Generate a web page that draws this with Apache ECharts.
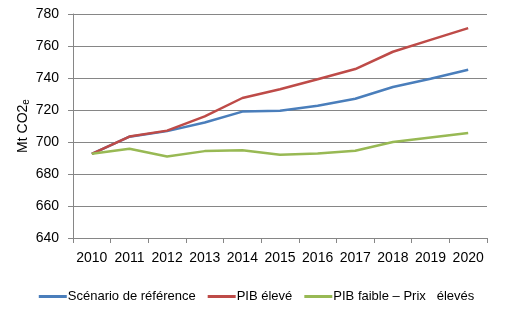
<!DOCTYPE html>
<html><head><meta charset="utf-8">
<script src="https://cdn.jsdelivr.net/npm/echarts@6/dist/echarts.min.js"></script>
<style>html,body{margin:0;padding:0;background:#fff}#c{width:513px;height:322px}</style>
</head><body><div id="c"></div>
<script>
var years = ['2010','2011','2012','2013','2014','2015','2016','2017','2018','2019','2020'];
var reference = [692.6, 703.3, 706.8, 712.2, 719.0, 719.6, 722.7, 727.0, 734.4, 739.5, 745.2];
var pibEleve = [692.6, 703.4, 707.1, 716.0, 727.5, 733.0, 739.2, 745.6, 756.4, 763.8, 771.2];
var pibFaible = [692.6, 695.8, 690.9, 694.3, 694.9, 692.1, 692.8, 694.5, 700.0, 702.8, 705.6];
var names = ['Scénario de référence', 'PIB élevé', 'PIB faible – Prix   élevés'];
var colors = ['#4a7ebb', '#be4b48', '#98b954'];
var font = 'Liberation Sans, Arial, sans-serif';
var chart = echarts.init(document.getElementById('c'));
function mk(i, data){
  return {name:names[i], type:'line', data:data, symbol:'none', smooth:false,
    lineStyle:{color:colors[i], width:2.5}, itemStyle:{color:colors[i]}};
}
chart.setOption({
  animation:false,
  grid:{left:73, right:26, top:14, bottom:84, containLabel:false},
  legend:{bottom:14, left:'center', icon:'rect', itemWidth:28, itemHeight:3, itemGap:12,
    textStyle:{fontFamily:font, fontSize:13, color:'#000', padding:[0,0,0,-4]},
    data:names},
  xAxis:{type:'category', data:years, boundaryGap:true,
    axisLine:{lineStyle:{color:'#868686'}},
    axisTick:{show:true, length:5, lineStyle:{color:'#868686'}, alignWithLabel:false},
    axisLabel:{fontFamily:font, fontSize:14, color:'#000', margin:13, interval:0}},
  yAxis:{type:'value', min:640, max:780, interval:20,
    name:'{a|Mt CO2}{b|e}', nameLocation:'middle', nameGap:42, nameRotate:90, nameMoveOverlap:false,
    nameTextStyle:{fontFamily:font, fontSize:14, color:'#000',
      rich:{a:{fontFamily:font, fontSize:14, color:'#000'}, b:{fontFamily:font, fontSize:10, color:'#000', verticalAlign:'bottom', padding:[6,0,0,0]}}},
    axisLine:{show:true, lineStyle:{color:'#868686'}},
    axisTick:{show:true, length:5, lineStyle:{color:'#868686'}},
    axisLabel:{fontFamily:font, fontSize:14, color:'#000', margin:14},
    splitLine:{lineStyle:{color:'#868686', width:1}}},
  series:[mk(0, reference), mk(1, pibEleve), mk(2, pibFaible)]
});
</script></body></html>
